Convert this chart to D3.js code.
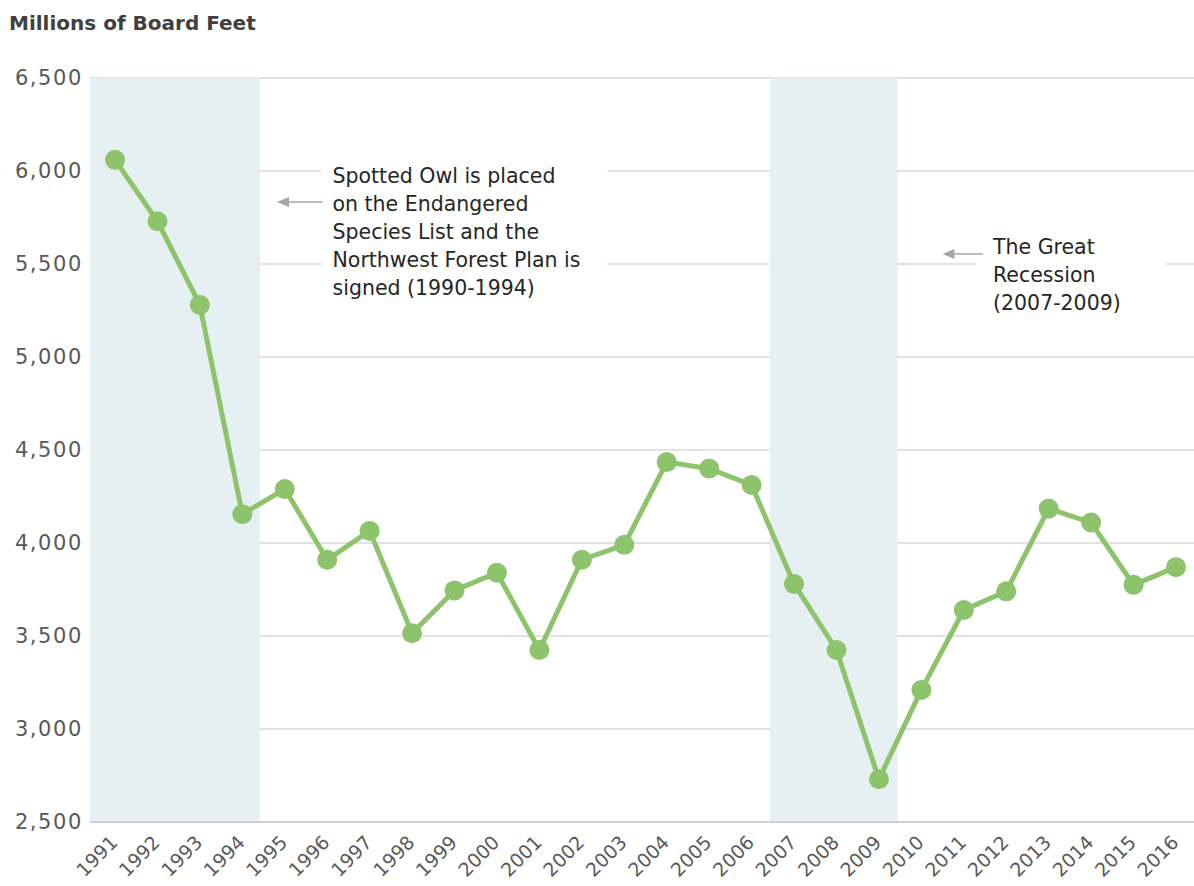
<!DOCTYPE html>
<html><head><meta charset="utf-8">
<script src="https://cdn.jsdelivr.net/npm/d3@7"></script>
<style>body{margin:0;background:#fff;} text{font-family:"DejaVu Sans",sans-serif;}</style>
</head><body>
<svg id="c" width="1194" height="886"></svg>
<script>
const years = ["1991","1992","1993","1994","1995","1996","1997","1998","1999","2000","2001","2002","2003","2004","2005","2006","2007","2008","2009","2010","2011","2012","2013","2014","2015","2016"];
const values = [6060,5730,5280,4155,4290,3910,4065,3515,3745,3840,3425,3910,3990,4435,4400,4312,3780,3425,2730,3210,3640,3740,4185,4110,3775,3870];
const yTicks = [2500,3000,3500,4000,4500,5000,5500,6000,6500];
const shades = [["1991","1994"],["2007","2009"]];
const notes = [
  {lines:["Spotted Owl is placed","on the Endangered","Species List and the","Northwest Forest Plan is","signed (1990-1994)"], anchorYear:"1994", textYear:"1996", y0:6000, arrowV:5833},
  {lines:["The Great","Recession","(2007-2009)"], anchorYear:"2009", textYear:"2011", y0:5620, arrowV:5554}
];

const svg = d3.select("#c");
const L=90, R=1195, T=78, B=822;
const x = d3.scaleBand().domain(years).range([L,R]);
const px = d3.scalePoint().domain(years).range([L+25,R-19]);
const y = d3.scaleLinear().domain([2500,6500]).range([B,T]);

// gridlines
svg.append("g").selectAll("line").data(yTicks).join("line")
  .attr("x1",L).attr("x2",R).attr("y1",d=>y(d)).attr("y2",d=>y(d))
  .attr("stroke",d=>d===2500?"#cfcfcf":"#d9d9d9").attr("stroke-width",d=>d===2500?2:1.3);

// shaded bands
svg.append("g").selectAll("rect").data(shades).join("rect")
  .attr("x",d=>x(d[0])).attr("width",d=>x(d[1])+x.bandwidth()-x(d[0]))
  .attr("y",T).attr("height",B-T-1).attr("fill","#e6f0f2");

// y labels
svg.append("g").selectAll("text").data(yTicks).join("text")
  .attr("x",83).attr("y",d=>y(d)).attr("dy","0.35em").attr("text-anchor","end")
  .attr("font-size",21).attr("letter-spacing",1.6).attr("fill","#595959").text(d3.format(","));

// title
svg.append("text").attr("x",9).attr("y",30).attr("font-size",20).attr("font-weight","bold")
  .attr("fill","#404040").text("Millions of Board Feet");

// x labels
svg.append("g").selectAll("text").data(years).join("text")
  .attr("transform",d=>`translate(${px(d)-1},${B+17}) rotate(-45)`)
  .attr("text-anchor","end").attr("dy","0.35em").attr("font-size",19).attr("fill","#595959").text(d=>d);

// annotations
const pads = [[11,27],[16,45]];
notes.forEach((n,i)=>{
  const tx = x(n.textYear) + (i===0?30:53);
  const lh = 28;
  const g = svg.append("g");
  const t = g.append("text").attr("font-size",20.5).attr("fill","#262626");
  n.lines.forEach((s,k)=>t.append("tspan").attr("x",tx).attr("y",y(n.y0)+12+k*lh).text(s));
  const bb = t.node().getBBox();
  g.insert("rect","text").attr("x",bb.x-pads[i][0]).attr("y",bb.y-4).attr("width",bb.width+pads[i][0]+pads[i][1]).attr("height",bb.height+8).attr("fill","#fff");
  const ay = y(n.arrowV);
  const ax0 = x(n.anchorYear)+x.bandwidth()+(i===0?17:45), ax1 = tx-10;
  g.append("line").attr("x1",ax0+10).attr("x2",ax1).attr("y1",ay).attr("y2",ay).attr("stroke","#a6a6a6").attr("stroke-width",1.5);
  g.append("path").attr("d",`M${ax0},${ay} l12,-5 l0,10 z`).attr("fill","#a6a6a6");
});

// line
const data = years.map((yr,i)=>({yr,v:values[i]}));
svg.append("path").datum(data)
  .attr("d",d3.line().x(d=>px(d.yr)).y(d=>y(d.v)))
  .attr("fill","none").attr("stroke","#8dc46b").attr("stroke-width",5).attr("stroke-linejoin","round");
svg.append("g").selectAll("circle").data(data).join("circle")
  .attr("cx",d=>px(d.yr)).attr("cy",d=>y(d.v)).attr("r",10).attr("fill","#8dc46b");
</script>
</body></html>
